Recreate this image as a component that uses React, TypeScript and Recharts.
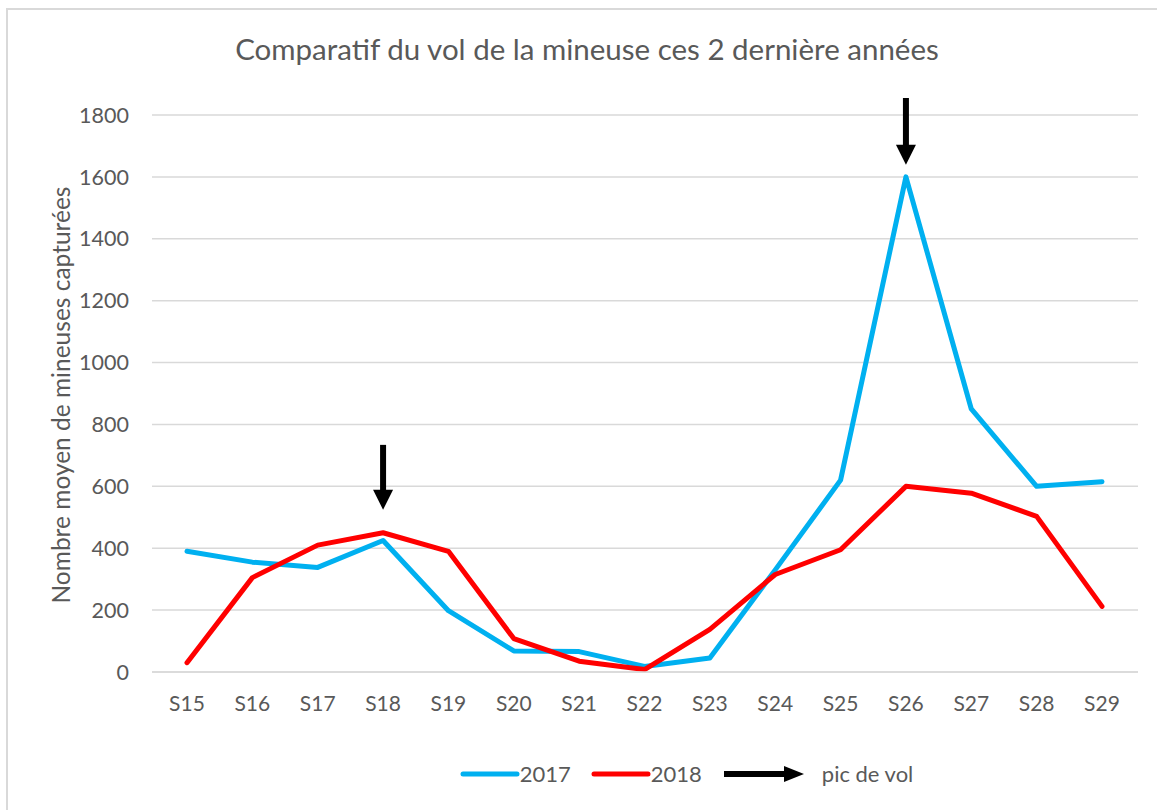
import React from 'react';
import {
  LineChart,
  Line,
  XAxis,
  YAxis,
  CartesianGrid,
  Legend,
  ReferenceLine,
  Label
} from 'recharts';

const weeks = ['S15', 'S16', 'S17', 'S18', 'S19', 'S20', 'S21', 'S22', 'S23', 'S24', 'S25', 'S26', 'S27', 'S28', 'S29'];
const vol2017 = [390, 355, 338, 425, 198, 68, 66, 18, 45, 330, 620, 1600, 850, 600, 615];
const vol2018 = [30, 305, 410, 450, 390, 108, 35, 8, 138, 315, 395, 600, 578, 503, 212];
const yTicks = [0, 200, 400, 600, 800, 1000, 1200, 1400, 1600, 1800];

// peak arrows: week, start value (top), tip value
const peakWeeks = ['S18', 'S26'];
const peakFrom = [734, 1855];
const peakTo = [524, 1639];

const FONT = 'Lato, "Open Sans", sans-serif';
const TEXT = '#595959';
const GRID = '#d9d9d9';
const BLUE = '#00b0f0';
const RED = '#ff0000';

const data = weeks.map((w, i) => ({ week: w, v2017: vol2017[i], v2018: vol2018[i] }));

const ArrowShape = (p: any) => {
  const { x1, y1, x2, y2 } = p;
  const head = 20;
  return (
    <g>
      <line x1={x1} y1={y1} x2={x2} y2={y2 - head + 2} stroke="#000" strokeWidth={6} />
      <polygon points={`${x2 - 10},${y2 - head} ${x2 + 10},${y2 - head} ${x2},${y2}`} fill="#000" />
    </g>
  );
};

const legendItems = [
  { label: '2017', color: BLUE, kind: 'line' },
  { label: '2018', color: RED, kind: 'line' },
  { label: 'pic de vol', color: '#000', kind: 'arrow' }
];

const LegendContent = () => (
  <div style={{ display: 'flex', justifyContent: 'center', alignItems: 'center', paddingLeft: 236 }}>
    {legendItems.map((it) => (
      <div key={it.label} style={{ display: 'flex', alignItems: 'center', marginRight: 20 }}>
        {it.kind === 'line' ? (
          <svg width={60} height={12}>
            <line x1={3} y1={6} x2={57} y2={6} stroke={it.color} strokeWidth={5} strokeLinecap="round" />
          </svg>
        ) : (
          <svg width={94} height={20}>
            <line x1={2} y1={10} x2={66} y2={10} stroke="#000" strokeWidth={6} />
            <polygon points="62,2 62,18 82,10" fill="#000" />
          </svg>
        )}
        <span style={{ fontFamily: FONT, fontSize: 22, color: TEXT, marginLeft: it.kind === 'line' ? 0 : 6 }}>
          {it.label}
        </span>
      </div>
    ))}
  </div>
);

export default function App() {
  return (
    <div style={{ position: 'absolute', left: 0, top: 0, width: 1157, height: 810, background: '#fff' }}>
      <div
        style={{
          position: 'absolute',
          left: 6,
          top: 8,
          width: 1200,
          height: 900,
          borderLeft: `2px solid ${GRID}`,
          borderTop: `2px solid ${GRID}`
        }}
      />
      <div
        style={{
          position: 'absolute',
          left: 0,
          top: 31,
          width: 1174,
          textAlign: 'center',
          fontFamily: FONT,
          fontSize: 29.5,
          color: TEXT
        }}
      >
        Comparatif du vol de la mineuse ces 2 dernière années
      </div>
      <LineChart
        width={1157}
        height={810}
        data={data}
        margin={{ top: 115, right: 19, left: 30, bottom: 98 }}
        style={{ position: 'absolute', left: 0, top: 0, fontFamily: FONT }}
      >
        <CartesianGrid vertical={false} stroke={GRID} strokeWidth={1.5} />
        <XAxis
          dataKey="week"
          height={40}
          padding={{ left: 35, right: 36 }}
          tickLine={false}
          tickMargin={18}
          axisLine={{ stroke: GRID, strokeWidth: 1.5 }}
          tick={{ fill: TEXT, fontSize: 21, fontFamily: FONT }}
          interval={0}
        />
        <YAxis
          width={122}
          domain={[0, 1800]}
          ticks={yTicks}
          tickLine={false}
          axisLine={false}
          tickMargin={17}
          tick={{ fill: TEXT, fontSize: 21.5, fontFamily: FONT }}
        >
          <Label
            content={() => (
              <text
                x={60}
                y={395}
                transform="rotate(-90 60 395)"
                textAnchor="middle"
                dominantBaseline="central"
                fill={TEXT}
                fontSize={24.5}
                fontFamily={FONT}
              >
                Nombre moyen de mineuses capturées
              </text>
            )}
          />
        </YAxis>
        <Line
          type="linear"
          dataKey="v2017"
          name="2017"
          stroke={BLUE}
          strokeWidth={5}
          strokeLinejoin="round"
          strokeLinecap="round"
          dot={false}
          isAnimationActive={false}
        />
        <Line
          type="linear"
          dataKey="v2018"
          name="2018"
          stroke={RED}
          strokeWidth={5}
          strokeLinejoin="round"
          strokeLinecap="round"
          dot={false}
          isAnimationActive={false}
        />
        {peakWeeks.map((w, i) => (
          <ReferenceLine
            key={w}
            segment={[
              { x: w, y: peakFrom[i] },
              { x: w, y: peakTo[i] }
            ]}
            ifOverflow="visible"
            shape={ArrowShape}
          />
        ))}
        <Legend
          layout="horizontal"
          verticalAlign="middle"
          align="center"
          wrapperStyle={{ top: 760, left: 0, width: 1157 }}
          content={LegendContent}
        />
      </LineChart>
    </div>
  );
}
